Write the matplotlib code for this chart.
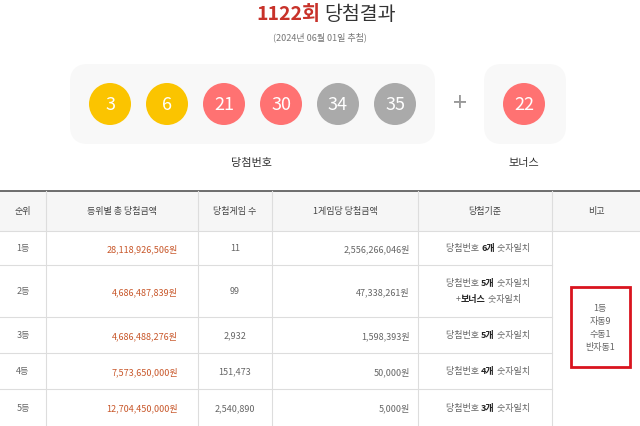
import matplotlib.pyplot as plt
from matplotlib.patches import Circle, FancyBboxPatch, Rectangle

plt.rcParams['font.family'] = ['Noto Sans CJK KR', 'DejaVu Sans']

# 데이터
draw_no = "1122회"
draw_date = "(2024년 06월 01일 추첨)"
numbers = [3, 6, 21, 30, 34, 35]
bonus = 22
headers = ["순위", "등위별 총 당첨금액", "당첨게임 수", "1게임당 당첨금액", "당첨기준", "비고"]
ranks = ["1등", "2등", "3등", "4등", "5등"]
totals = ["28,118,926,506원", "4,686,487,839원", "4,686,488,276원", "7,573,650,000원", "12,704,450,000원"]
winners = ["11", "99", "2,932", "151,473", "2,540,890"]
per_game = ["2,556,266,046원", "47,338,261원", "1,598,393원", "50,000원", "5,000원"]
criteria = [("당첨번호 ", "6개", " 숫자일치"), ("당첨번호 ", "5개", " 숫자일치"),
            ("당첨번호 ", "5개", " 숫자일치"), ("당첨번호 ", "4개", " 숫자일치"),
            ("당첨번호 ", "3개", " 숫자일치")]
note = "1등\n자동9\n수동1\n반자동1"


def ball_color(n):
    if n <= 10:
        return "#fbc400"
    if n <= 20:
        return "#69c8f2"
    if n <= 30:
        return "#ff7272"
    if n <= 40:
        return "#aaaaaa"
    return "#b0d840"


def rich_line(x, y, parts, fs):
    # (text, bold) 조각들을 이어서 한 줄로
    t = ax.text(x, y, parts[0][0], ha="left", va="center", fontsize=fs,
                color="#222222" if parts[0][1] else "#666666",
                fontweight="bold" if parts[0][1] else "normal")
    for s, b in parts[1:]:
        t = ax.annotate(s, xycoords=t, xy=(1, 0.5), va="center", ha="left", fontsize=fs,
                        color="#222222" if b else "#666666",
                        fontweight="bold" if b else "normal")


fig = plt.figure(figsize=(6.4, 4.27), dpi=100)
ax = fig.add_axes([0, 0, 1, 1])
ax.set_xlim(0, 640)
ax.set_ylim(427, 0)
ax.axis("off")

# 제목
ax.text(320, 14, draw_no, ha="right", va="center", fontsize=14, color="#c8322a", fontweight="bold")
ax.text(324, 14, "당첨결과", ha="left", va="center", fontsize=14, color="#333333")
ax.text(320, 37, draw_date, ha="center", va="center", fontsize=6.5, color="#777777")

# 공 패널
ax.add_patch(FancyBboxPatch((70, 65), 365, 80, boxstyle="round,pad=0,rounding_size=18",
                            fc="#f8f8f8", ec="none"))
ax.add_patch(FancyBboxPatch((484, 65), 82, 80, boxstyle="round,pad=0,rounding_size=18",
                            fc="#f8f8f8", ec="none"))
for i, n in enumerate(numbers):
    cx = 110 + i * 57
    ax.add_patch(Circle((cx, 105), 21, fc=ball_color(n), ec="none"))
    ax.text(cx, 105, str(n), ha="center", va="center", fontsize=13, color="white")
ax.text(460, 104, "+", ha="center", va="center", fontsize=18, color="#999999")
ax.add_patch(Circle((524, 105), 21, fc=ball_color(bonus), ec="none"))
ax.text(524, 105, str(bonus), ha="center", va="center", fontsize=13, color="white")
ax.text(252, 163, "당첨번호", ha="center", va="center", fontsize=8, color="#333333")
ax.text(524, 163, "보너스", ha="center", va="center", fontsize=8, color="#333333")

# 표
col_edges = [0, 46, 198, 272, 418, 552, 640]
row_edges = [192, 232, 266, 318, 354, 390, 427]
ax.add_patch(Rectangle((0, 192), 640, 40, fc="#f6f6f6", ec="none"))
ax.plot([0, 640], [192, 192], color="#555555", lw=1.2)
for y in row_edges[1:-1]:
    ax.plot([0, 552], [y, y], color="#dddddd", lw=0.8)
ax.plot([552, 640], [232, 232], color="#dddddd", lw=0.8)
for x in col_edges[1:-1]:
    ax.plot([x, x], [192, 427], color="#dddddd", lw=0.8)

fs = 6.5
for j, h in enumerate(headers):
    ax.text((col_edges[j] + col_edges[j + 1]) / 2, 212, h, ha="center", va="center",
            fontsize=fs, color="#444444")

for i in range(len(ranks)):
    yc = (row_edges[i + 1] + row_edges[i + 2]) / 2
    ax.text(23, yc, ranks[i], ha="center", va="center", fontsize=fs, color="#666666")
    ax.text(178, yc, totals[i], ha="right", va="center", fontsize=fs, color="#c8572a")
    ax.text(235, yc, winners[i], ha="center", va="center", fontsize=fs, color="#666666")
    ax.text(410, yc, per_game[i], ha="right", va="center", fontsize=fs, color="#666666")
    pre, bold, post = criteria[i]
    ty = yc - 8 if i == 1 else yc
    rich_line(446, ty, [(pre, False), (bold, True), (post, False)], fs)
    if i == 1:
        rich_line(456, yc + 8, [("+", False), ("보너스", True), (" 숫자일치", False)], fs)

ax.text(600, 328, note, ha="center", va="center", fontsize=fs, color="#666666", linespacing=1.6)
ax.add_patch(Rectangle((571, 288), 59, 80, fc="none", ec="#d9141e", lw=2))

fig.savefig("out.png", dpi=100)
